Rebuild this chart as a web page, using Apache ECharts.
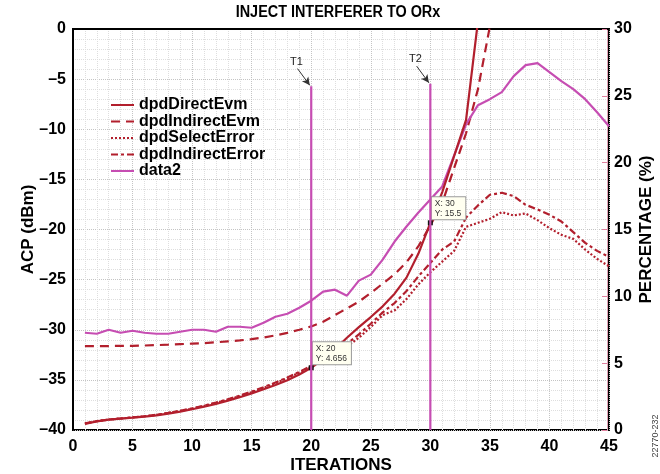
<!DOCTYPE html>
<html><head><meta charset="utf-8">
<script src="https://cdn.jsdelivr.net/npm/echarts@6/dist/echarts.min.js"></script>
<style>html,body{margin:0;padding:0;background:#fff}#c{width:660px;height:474px}</style>
</head><body><div id="c"></div>
<script>
const iterations = [1,2,3,4,5,6,7,8,9,10,11,12,13,14,15,16,17,18,19,20,21,22,23,24,25,26,27,28,29,30,31,32,33,34,35,36,37,38,39,40,41,42,43,44,45];
// percentage (%) series
const dpdDirectEvm = [0.45,0.65,0.78,0.85,0.92,1.0,1.1,1.22,1.38,1.55,1.74,1.95,2.2,2.45,2.74,3.05,3.37,3.72,4.15,4.656,5.3,6.05,6.9,7.7,8.45,9.25,10.2,11.4,13.2,15.5,17.8,20.5,23.2,30.6,38];
const dpdIndirectEvm = [6.28,6.28,6.28,6.3,6.3,6.32,6.35,6.38,6.42,6.46,6.5,6.56,6.63,6.7,6.8,6.92,7.08,7.27,7.5,7.75,8.1,8.6,9.1,9.6,10.25,10.95,11.65,12.55,13.75,15.3,17.0,19.6,22.2,25.5,30.2,36];
const dpdSelectError = [0.5,0.66,0.78,0.86,0.94,1.03,1.13,1.27,1.42,1.6,1.8,2.02,2.27,2.53,2.83,3.15,3.5,3.88,4.3,4.75,5.2,5.7,6.25,6.9,7.7,8.6,8.95,9.8,10.9,11.8,12.6,13.4,15.2,15.5,15.8,16.3,16.05,16.2,15.7,15.1,14.6,14.3,13.5,12.8,12.25];
const dpdIndirectError = [0.5,0.66,0.78,0.86,0.94,1.03,1.14,1.28,1.44,1.62,1.82,2.05,2.3,2.57,2.87,3.2,3.55,3.93,4.35,4.8,5.3,5.85,6.45,7.15,7.95,8.8,9.5,10.4,11.5,12.5,13.5,14.1,15.9,16.8,17.6,17.75,17.5,16.85,16.5,16.1,15.6,14.8,14.0,13.4,12.95];
// ACP (dBm) series
const data2 = [-30.3,-30.4,-30.0,-30.3,-30.1,-30.3,-30.4,-30.4,-30.2,-30.0,-30.0,-30.2,-29.7,-29.7,-29.8,-29.3,-28.7,-28.4,-27.8,-27.1,-26.2,-26.0,-26.6,-25.1,-24.5,-23.0,-21.2,-19.7,-18.3,-17.0,-15.7,-12.6,-9.5,-7.6,-7.0,-6.3,-4.7,-3.6,-3.4,-4.3,-5.2,-6.0,-7.0,-8.3,-9.7];
// cursors T1/T2 (iteration, top in dBm)
const cursorNames = ['T1','T2'];
const cursorX = [20, 30];
const cursorTop = [-5.7, -5.45];
// data-tip readouts on dpdDirectEvm
const readoutX = [20, 30];
const readoutY = [4.656, 15.5];

const RED = '#b21f2d', MAG = '#c64db2';
const FONT = 'Liberation Sans, Arial, Helvetica, sans-serif';
const pairs = arr => arr.map((v,i)=>[iterations[i], v]);

const chart = echarts.init(document.getElementById('c'), null, {renderer:'canvas'});

const cursorSeries = cursorNames.map((n,k)=>({
  name: n, type:'line', yAxisIndex:0, symbol:'none', z:5,
  lineStyle:{color:MAG, width:2.2}, itemStyle:{color:MAG},
  data:[[cursorX[k], -40],[cursorX[k], cursorTop[k]]],
  markLine:{
    silent:true, symbol:['none','arrow'], symbolSize:[6,8],
    lineStyle:{color:'#333', width:1, type:'solid'},
    label:{show:true, position:'start', formatter:n, color:'#222', fontSize:11, fontFamily:FONT, distance:2},
    data:[[{coord:[cursorX[k]-1.15, cursorTop[k]+1.75]},{coord:[cursorX[k]-0.12, cursorTop[k]+0.08]}]]
  }
}));

const option = {
  backgroundColor:'#fff',
  animation:false,
  textStyle:{fontFamily:FONT},
  grid:{left:73, right:51, top:29, bottom:44, show:true, borderColor:'#000', borderWidth:2, outerBoundsMode:'none', containLabel:false},
  legend:{
    show:true, orient:'vertical', left:105, top:92, itemWidth:23, itemHeight:14, itemGap:0.5,
    itemStyle:{opacity:0},
    data:['dpdDirectEvm','dpdIndirectEvm','dpdSelectError','dpdIndirectError','data2'],
    textStyle:{fontSize:16, fontWeight:'bold', color:'#000', fontFamily:FONT, lineHeight:16}
  },
  graphic:[
    {type:'text', x:338, y:13, scaleX:0.9, style:{text:'INJECT INTERFERER TO ORx', font:'bold 16px '+FONT, align:'center', verticalAlign:'middle', fill:'#000'}},
    {type:'text', x:656, y:436, rotation:Math.PI/2, style:{text:'22770-232', font:'9px '+FONT, align:'center', verticalAlign:'middle', fill:'#444'}}
  ],
  xAxis:{
    type:'value', min:0, max:45, interval:5,
    name:'ITERATIONS', nameLocation:'middle', nameGap:27, nameMoveOverlap:false,
    nameTextStyle:{fontSize:17, fontWeight:'bold', color:'#000', fontFamily:FONT},
    axisLine:{show:true, lineStyle:{color:'#000', width:2}},
    axisTick:{show:false},
    axisLabel:{fontSize:16, fontWeight:'bold', color:'#000', margin:9, fontFamily:FONT},
    splitLine:{show:true, lineStyle:{color:'#c4c4c4', type:'dotted', width:1}},
    minorTick:{show:false, splitNumber:5},
    minorSplitLine:{show:true, lineStyle:{color:'#dedede', type:'dotted', width:1}}
  },
  yAxis:[
    {
      type:'value', min:-40, max:0, interval:5, position:'left',
      name:'ACP (dBm)', nameLocation:'middle', nameGap:36, nameMoveOverlap:false,
      nameTextStyle:{fontSize:17, fontWeight:'bold', color:'#000', fontFamily:FONT},
      axisLine:{show:true, lineStyle:{color:'#000', width:2}},
      axisTick:{show:false},
      axisLabel:{fontSize:16, fontWeight:'bold', color:'#000', margin:7, fontFamily:FONT,
        formatter:v=> String(v).replace('-', '\u2013')},
      splitLine:{show:true, lineStyle:{color:'#c4c4c4', type:'dotted', width:1}},
      minorTick:{show:false, splitNumber:5},
      minorSplitLine:{show:true, lineStyle:{color:'#dedede', type:'dotted', width:1}}
    },
    {
      type:'value', min:0, max:30, interval:5, position:'right', offset:-2,
      name:'PERCENTAGE (%)', nameLocation:'middle', nameGap:31, nameRotate:90, nameMoveOverlap:false,
      nameTextStyle:{fontSize:17, fontWeight:'bold', color:'#000', fontFamily:FONT},
      axisLine:{show:true, lineStyle:{color:'#e3a3b6', width:1}},
      axisTick:{show:true, inside:true, length:5, lineStyle:{color:'#e07f9e', width:1}},
      axisLabel:{fontSize:16, fontWeight:'bold', color:'#000', margin:7, fontFamily:FONT},
      splitLine:{show:false}
    }
  ],
  series:[
    {name:'dpdDirectEvm', type:'line', yAxisIndex:1, symbol:'none', z:4,
      lineStyle:{color:RED, width:2.2, type:'solid'}, itemStyle:{color:RED},
      data:pairs(dpdDirectEvm),
      markPoint:{
        symbol:'rect', symbolSize:5, silent:true,
        itemStyle:{color:'#111', opacity:1},
        data: readoutX.map((x,k)=>({coord:[x, readoutY[k]], value:readoutY[k],
          label:{show:true, position:[4,-23], formatter:'X: '+x+'\nY: '+readoutY[k],
            fontSize:8.5, lineHeight:10, color:'#333', fontFamily:FONT, align:'left', verticalAlign:'top',
            backgroundColor:'#fffff0', borderColor:'#9a9a9a', borderWidth:1, padding:[1,4,1,3]}}))
      }
    },
    {name:'dpdIndirectEvm', type:'line', yAxisIndex:1, symbol:'none', z:3,
      lineStyle:{color:RED, width:2.2, type:[9,6]}, itemStyle:{color:RED},
      data:pairs(dpdIndirectEvm)},
    {name:'dpdSelectError', type:'line', yAxisIndex:1, symbol:'none', z:3,
      lineStyle:{color:RED, width:2.2, type:[2,2]}, itemStyle:{color:RED},
      data:pairs(dpdSelectError)},
    {name:'dpdIndirectError', type:'line', yAxisIndex:1, symbol:'none', z:3,
      lineStyle:{color:RED, width:2.2, type:[7,3,3,3]}, itemStyle:{color:RED},
      data:pairs(dpdIndirectError)},
    {name:'data2', type:'line', yAxisIndex:0, symbol:'none', z:3,
      lineStyle:{color:MAG, width:2.2}, itemStyle:{color:MAG},
      data:pairs(data2)},
    ...cursorSeries
  ]
};
chart.setOption(option);
</script></body></html>
